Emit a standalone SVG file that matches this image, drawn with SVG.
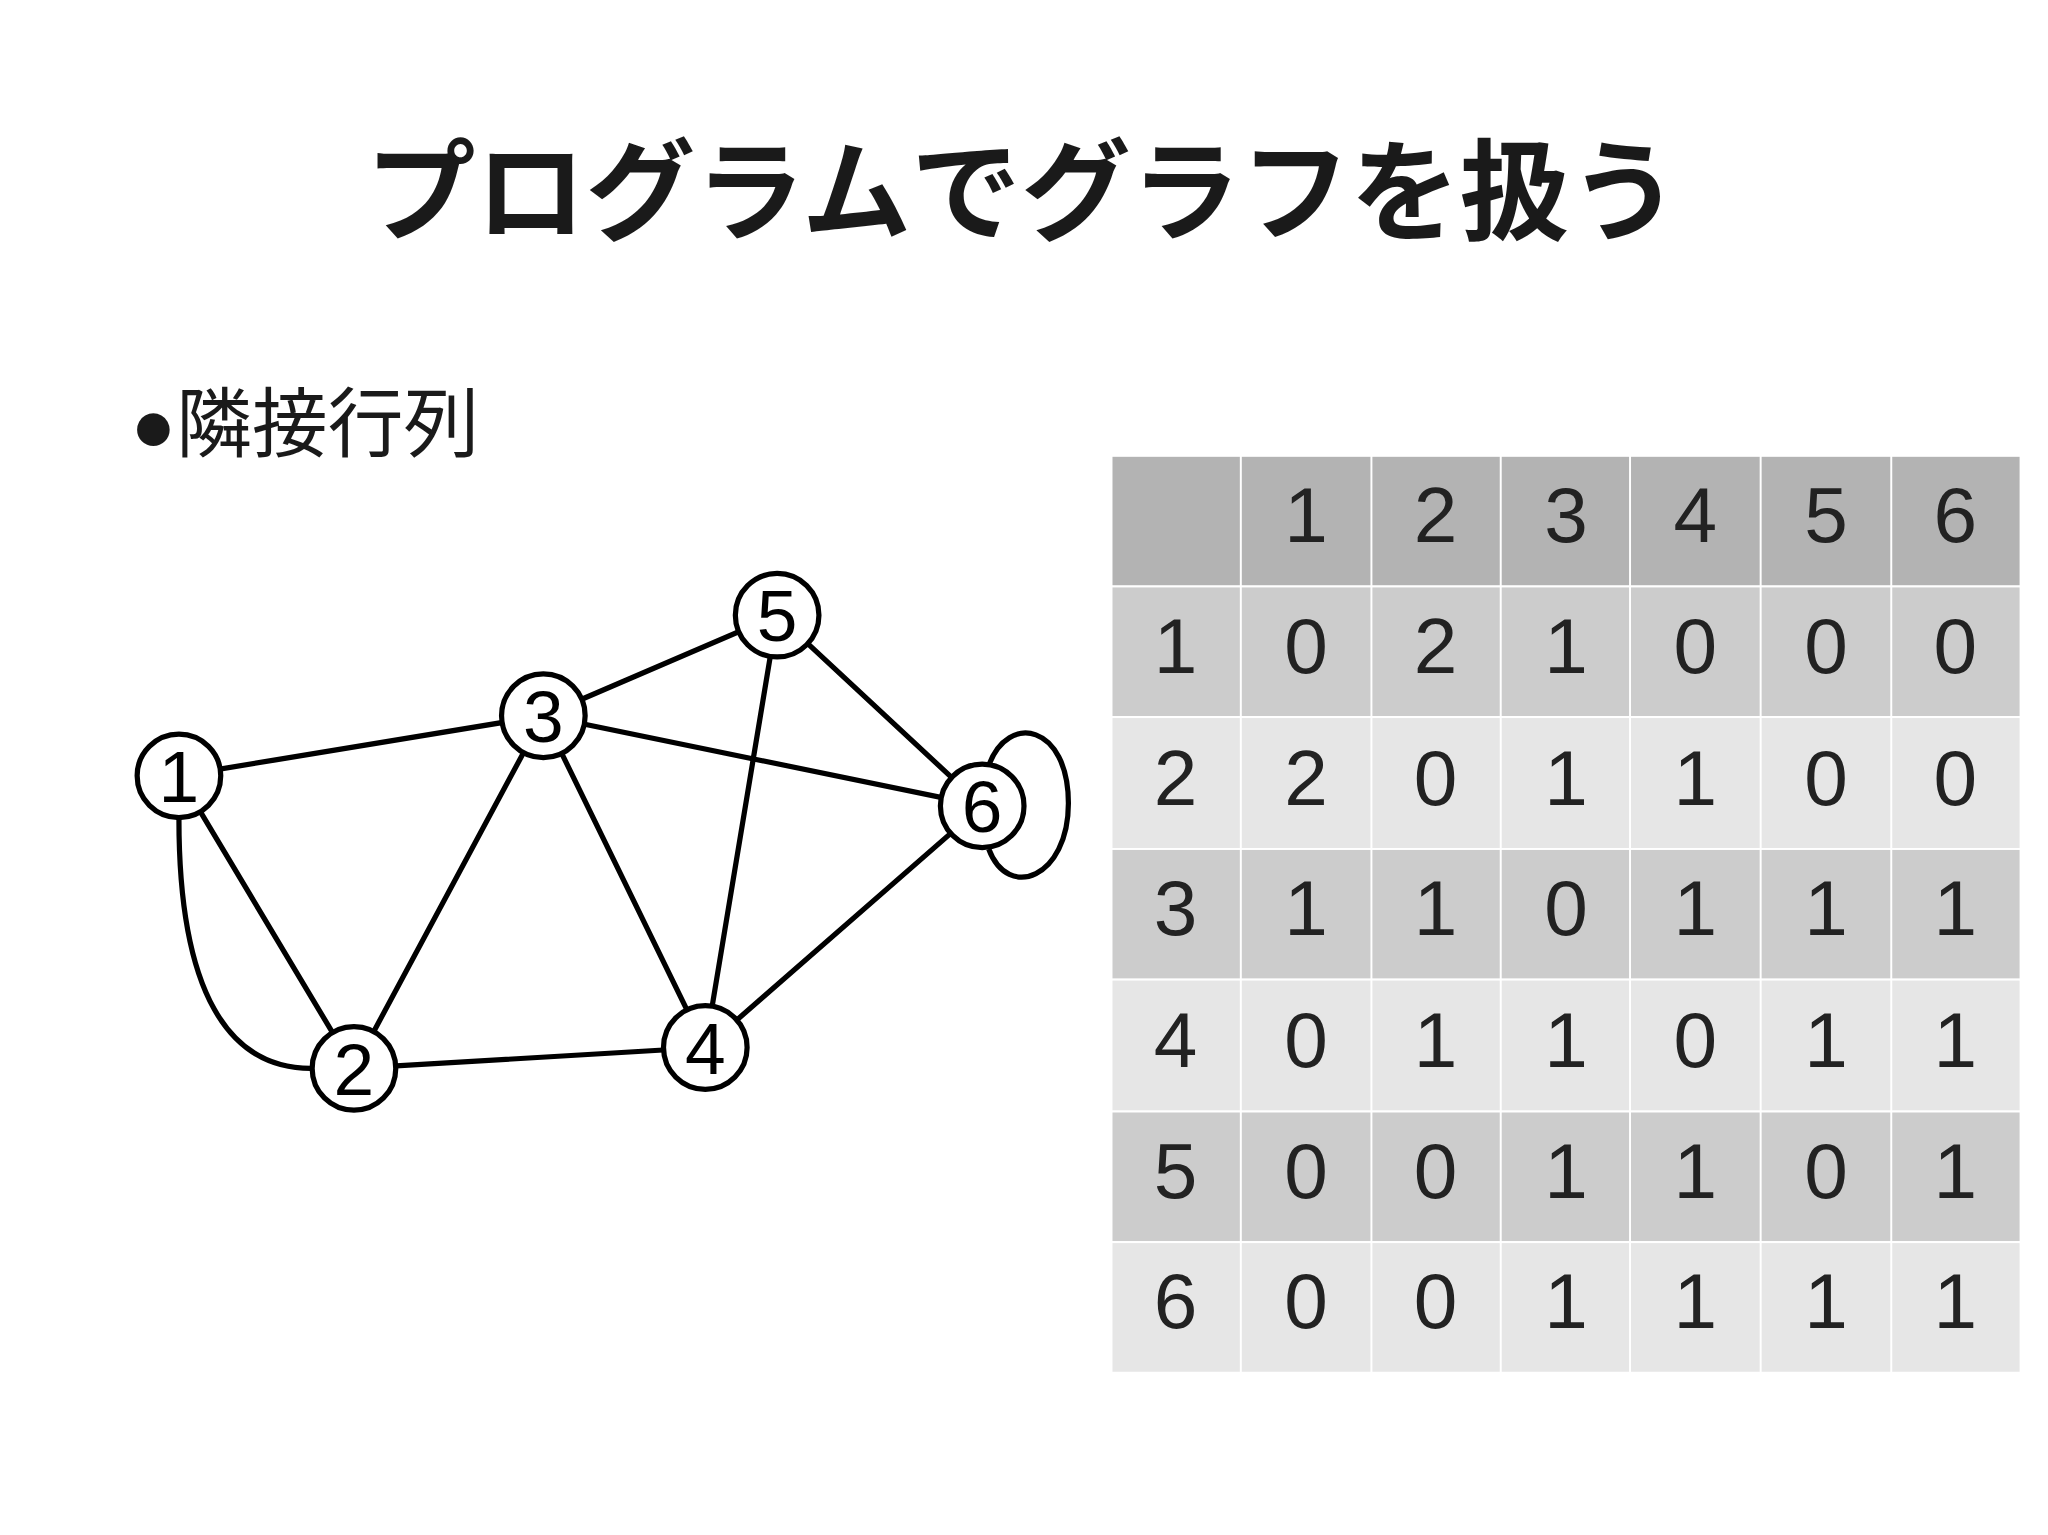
<svg xmlns="http://www.w3.org/2000/svg" width="2048" height="1535" viewBox="0 0 2048 1535">
<style>
.t{font-family:"Liberation Sans","Noto Sans CJK JP",sans-serif;fill:#1a1a1a}
.c{font-family:"Liberation Sans",sans-serif;font-size:60px;fill:#222;text-anchor:middle}
.e{fill:none;stroke:#000;stroke-width:4}
.n circle{fill:#fff;stroke:#000;stroke-width:4}
.n text{font-family:"Liberation Sans",sans-serif;font-size:56px;text-anchor:middle;fill:#000}
.h{fill:#b3b3b3}.d{fill:#cccccc}.l{fill:#e6e6e6}
</style>
<rect width="2048" height="1535" fill="#fff"/>
<g transform="scale(1.30612)">
<text class="t" x="783" y="178" font-size="84" font-weight="bold" text-anchor="middle">プログラムでグラフを扱う</text>
<text class="t" x="100" y="345" font-size="58">●隣接行列</text>
<g id="table" stroke="#fff" stroke-width="1.5">
<rect class="h" x="851" y="349" width="696" height="100"/>
<rect class="d" x="851" y="449" width="696" height="100"/>
<rect class="l" x="851" y="549" width="696" height="101"/>
<rect class="d" x="851" y="650" width="696" height="100"/>
<rect class="l" x="851" y="750" width="696" height="101"/>
<rect class="d" x="851" y="851" width="696" height="100"/>
<rect class="l" x="851" y="951" width="696" height="100"/>
<path d="M950,349V1051M1050,349V1051M1149,349V1051M1248,349V1051M1348,349V1051M1448,349V1051"/>
</g>
<g id="tabletext" class="c">
<text x="1000" y="415">1</text><text x="1099" y="415">2</text><text x="1199" y="415">3</text><text x="1298" y="415">4</text><text x="1398" y="415">5</text><text x="1497" y="415">6</text>
<text x="900" y="515">1</text><text x="1000" y="515">0</text><text x="1099" y="515">2</text><text x="1199" y="515">1</text><text x="1298" y="515">0</text><text x="1398" y="515">0</text><text x="1497" y="515">0</text>
<text x="900" y="616">2</text><text x="1000" y="616">2</text><text x="1099" y="616">0</text><text x="1199" y="616">1</text><text x="1298" y="616">1</text><text x="1398" y="616">0</text><text x="1497" y="616">0</text>
<text x="900" y="716">3</text><text x="1000" y="716">1</text><text x="1099" y="716">1</text><text x="1199" y="716">0</text><text x="1298" y="716">1</text><text x="1398" y="716">1</text><text x="1497" y="716">1</text>
<text x="900" y="817">4</text><text x="1000" y="817">0</text><text x="1099" y="817">1</text><text x="1199" y="817">1</text><text x="1298" y="817">0</text><text x="1398" y="817">1</text><text x="1497" y="817">1</text>
<text x="900" y="917">5</text><text x="1000" y="917">0</text><text x="1099" y="917">0</text><text x="1199" y="917">1</text><text x="1298" y="917">1</text><text x="1398" y="917">0</text><text x="1497" y="917">1</text>
<text x="900" y="1017">6</text><text x="1000" y="1017">0</text><text x="1099" y="1017">0</text><text x="1199" y="1017">1</text><text x="1298" y="1017">1</text><text x="1398" y="1017">1</text><text x="1497" y="1017">1</text>
</g>
<g id="edges" class="e">
<path d="M137,594L416,548M137,594L271,818M271,818L416,548M271,818L540,802M416,548L540,802M416,548L595,471M416,548L752,617M595,471L540,802M595,471L752,617M540,802L752,617"/>
<path d="M137,627C137,760 175,818 238,818"/>
<path d="M757,586C772,545 818,555 818,615C818,672 772,690 757,650"/>
</g>
<g id="n1" class="n"><circle cx="137" cy="594" r="32"/><text x="137" y="614">1</text></g>
<g id="n2" class="n"><circle cx="271" cy="818" r="32"/><text x="271" y="838">2</text></g>
<g id="n3" class="n"><circle cx="416" cy="548" r="32"/><text x="416" y="568">3</text></g>
<g id="n4" class="n"><circle cx="540" cy="802" r="32"/><text x="540" y="822">4</text></g>
<g id="n5" class="n"><circle cx="595" cy="471" r="32"/><text x="595" y="491">5</text></g>
<g id="n6" class="n"><circle cx="752" cy="617" r="32"/><text x="752" y="637">6</text></g>
</g>
</svg>
